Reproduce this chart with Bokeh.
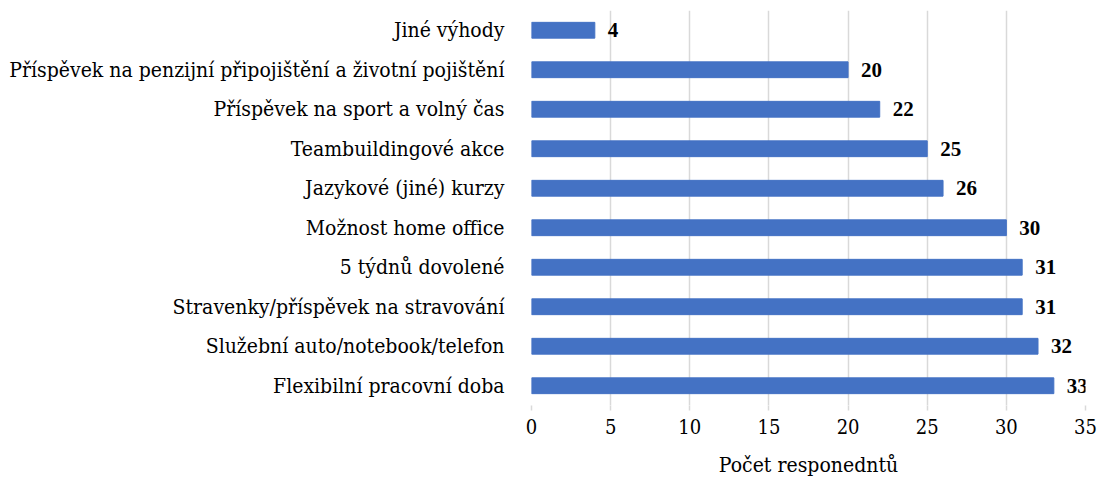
from bokeh.plotting import figure
from bokeh.models import ColumnDataSource, FactorRange, Range1d, FixedTicker, LabelSet
from bokeh.embed import file_html
from bokeh.resources import INLINE

categories = [
    "Flexibilní pracovní doba",
    "Služební auto/notebook/telefon",
    "Stravenky/příspěvek na stravování",
    "5 týdnů dovolené",
    "Možnost home office",
    "Jazykové (jiné) kurzy",
    "Teambuildingové akce",
    "Příspěvek na sport a volný čas",
    "Příspěvek na penzijní připojištění a životní pojištění",
    "Jiné výhody",
]
counts = [33, 32, 31, 31, 30, 26, 25, 22, 20, 4]
x_ticks = [0, 5, 10, 15, 20, 25, 30, 35]
x_title = "Počet responedntů"

FONT = "DejaVu Serif Condensed"

src = ColumnDataSource(dict(cat=categories, val=counts, lbl=[str(c) for c in counts]))

p = figure(
    y_range=FactorRange(*categories, range_padding=0),
    x_range=Range1d(0, 35),
    frame_width=554, frame_height=395,
    min_border_left=531, min_border_top=10, min_border_right=12, min_border_bottom=0,
    output_backend="svg", toolbar_location=None,
)
p.hbar(y="cat", right="val", left=0, height=0.4, color="#4472C4", source=src)
labels = LabelSet(x="val", y="cat", text="lbl", source=src, x_offset=13,
                  text_baseline="middle", text_align="left", text_font=FONT,
                  text_font_style="bold", text_font_size="21px", text_color="black")
p.add_layout(labels)

p.outline_line_color = None
p.background_fill_color = None
p.border_fill_color = "white"

p.ygrid.grid_line_color = None
p.xgrid.grid_line_color = "#d9d9d9"
p.xgrid.grid_line_width = 1.5
p.xaxis.ticker = FixedTicker(ticks=x_ticks)
p.xaxis.axis_line_color = None
p.xaxis.major_tick_line_color = "#d9d9d9"
p.xaxis.major_tick_line_width = 1.5
p.xaxis.major_tick_in = 0
p.xaxis.major_tick_out = 5
p.xaxis.minor_tick_line_color = None
p.xaxis.major_label_text_font = FONT
p.xaxis.major_label_text_font_size = "20px"
p.xaxis.major_label_text_color = "black"
p.xaxis.major_label_standoff = 8
p.xaxis.axis_label = x_title
p.xaxis.axis_label_text_font = FONT
p.xaxis.axis_label_text_font_size = "21px"
p.xaxis.axis_label_text_font_style = "normal"
p.xaxis.axis_label_text_color = "black"
p.xaxis.axis_label_standoff = 16

p.yaxis.axis_line_color = None
p.yaxis.major_tick_line_color = None
p.yaxis.minor_tick_line_color = None
p.yaxis.major_label_text_font = FONT
p.yaxis.major_label_text_font_size = "21px"
p.yaxis.major_label_text_color = "black"
p.yaxis.major_label_standoff = 21

open("out.html", "w").write(file_html(p, INLINE))
